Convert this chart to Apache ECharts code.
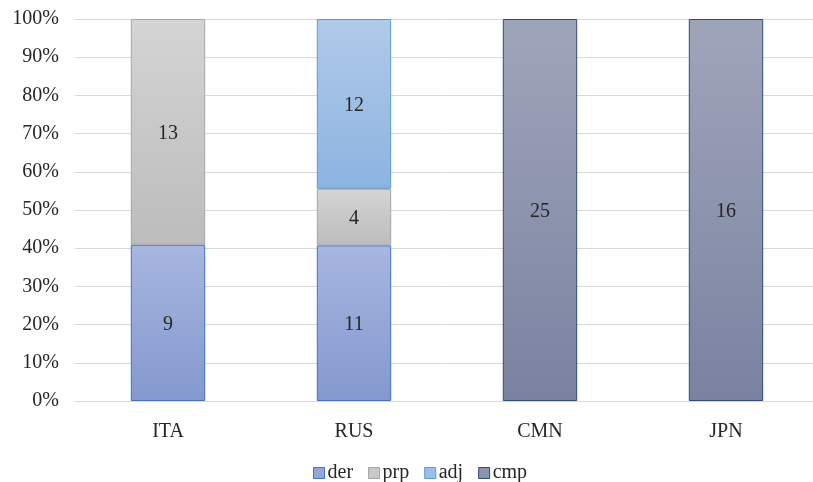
<!DOCTYPE html>
<html>
<head>
<meta charset="utf-8">
<script src="https://cdn.jsdelivr.net/npm/echarts@6/dist/echarts.min.js"></script>
<style>
  html, body { margin: 0; padding: 0; background: #fff; }
  #chart { width: 813px; height: 482px; }
</style>
</head>
<body>
<div id="chart"></div>
<script>
// Word-formation types per language (raw counts, shown as 100% stacked)
const languages = ['ITA', 'RUS', 'CMN', 'JPN'];
const der = [9, 11, null, null];
const prp = [13, 4, null, null];
const adj = [null, 12, null, null];
const cmp = [null, null, 25, 16];
const yTicks = [0, 10, 20, 30, 40, 50, 60, 70, 80, 90, 100];

const totals = languages.map((_, i) =>
  [der, prp, adj, cmp].reduce((s, arr) => s + (arr[i] || 0), 0));

function toPercent(arr) {
  return arr.map((v, i) => v == null ? null : { value: v / totals[i] * 100, count: v });
}

const FONT = '"Liberation Serif", "DejaVu Serif", serif';

function grad(top, bottom) {
  return new echarts.graphic.LinearGradient(0, 0, 0, 1, [
    { offset: 0, color: top },
    { offset: 1, color: bottom }
  ]);
}

const styles = {
  der: { top: '#a8b6e0', bottom: '#8398cd', border: '#4472c4', legend: '#95a6d7' },
  prp: { top: '#d4d4d4', bottom: '#bcbcbc', border: '#a5a5a5', legend: '#c8c8c8' },
  adj: { top: '#b0cae9', bottom: '#8cb3e0', border: '#5b9bd5', legend: '#9ebee5' },
  cmp: { top: '#9fa5b9', bottom: '#7a82a1', border: '#2f4b7c', legend: '#8c93ad' }
};

function makeSeries(name, arr) {
  const s = styles[name];
  return {
    name: name,
    type: 'bar',
    stack: 'total',
    barWidth: '40%',
    data: toPercent(arr),
    itemStyle: {
      color: grad(s.top, s.bottom),
      borderColor: s.border,
      borderWidth: 1
    },
    label: {
      show: true,
      position: 'inside',
      offset: [0, 2],
      fontFamily: FONT,
      fontSize: 20,
      color: '#262626',
      formatter: p => p.data && p.data.count != null ? String(p.data.count) : ''
    },
    emphasis: { disabled: true }
  };
}

const chart = echarts.init(document.getElementById('chart'), null, { renderer: 'canvas' });
chart.setOption({
  animation: false,
  backgroundColor: '#ffffff',
  grid: {
    left: 75, top: 19, width: 744, height: 382,
    containLabel: false,
    outerBoundsMode: 'none'
  },
  xAxis: {
    type: 'category',
    data: languages,
    axisLine: { lineStyle: { color: '#d9d9d9', width: 1 } },
    axisTick: { show: false },
    axisLabel: { fontFamily: FONT, fontSize: 20, color: '#262626', margin: 21 }
  },
  yAxis: {
    type: 'value',
    min: yTicks[0],
    max: yTicks[yTicks.length - 1],
    interval: 10,
    axisLine: { show: false },
    axisTick: { show: false },
    splitLine: { lineStyle: { color: '#d9d9d9', width: 1 } },
    axisLabel: {
      fontFamily: FONT, fontSize: 20, color: '#262626', margin: 16,
      padding: [3, 0, 0, 0],
      formatter: v => v + '%'
    }
  },
  legend: {
    top: 458,
    left: 308,
    itemWidth: 11,
    itemHeight: 11,
    itemGap: 15,
    textStyle: { fontFamily: FONT, fontSize: 20, color: '#262626', padding: [0, 0, 0, -2] },
    data: ['der', 'prp', 'adj', 'cmp'].map(n => ({
      name: n,
      icon: 'rect',
      itemStyle: { color: styles[n].legend, borderColor: styles[n].border, borderWidth: 1 }
    }))
  },
  series: [
    makeSeries('der', der),
    makeSeries('prp', prp),
    makeSeries('adj', adj),
    makeSeries('cmp', cmp)
  ]
});
</script>
</body>
</html>
